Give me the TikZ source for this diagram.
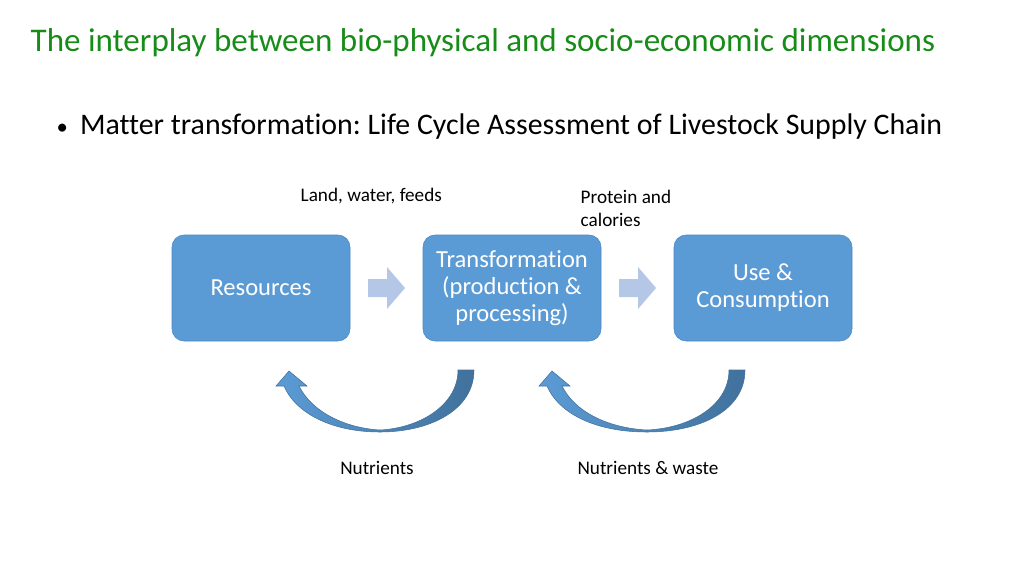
\documentclass[tikz,border=0pt]{standalone}
\usepackage{fontspec}
\setmainfont{Carlito}[Ligatures={NoCommon}]
\usetikzlibrary{calc,positioning}
\frenchspacing
\definecolor{boxblue}{RGB}{91,155,213}
\definecolor{boxedge}{RGB}{75,135,195}
\definecolor{paleblue}{RGB}{180,199,231}
\definecolor{darkblue}{RGB}{65,113,156}
\definecolor{titlegreen}{RGB}{24,140,24}
\tikzset{
  stagebox/.style={draw=boxedge,fill=boxblue,rounded corners=9,
    minimum width=133.5pt,minimum height=79.5pt,text=white,
    align=center,font=\fontsize{18.4}{20.3}\selectfont},
  smallnote/.style={font=\fontsize{14.4}{17.3}\selectfont,align=left},
  backflow/.style={draw=darkblue,line width=0.4pt,left color=boxblue,right color=darkblue}
}
\begin{document}
\begin{tikzpicture}[x=0.75pt,y=-0.75pt]
      \useasboundingbox(0,0)rectangle(1024,576);
      \node[anchor=west,text=titlegreen,font=\fontsize{24.8}{29}\selectfont](title)at(26,43)
        {The interplay between bio-physical and socio-economic dimensions};
      \node[anchor=west,font=\fontsize{22.4}{27}\selectfont](bullet)at(52,127)
        {{\fontsize{17}{20}\selectfont\textbullet}\hspace{9pt}Matter transformation: Life Cycle Assessment of Livestock Supply Chain};
      \node[stagebox](res)at(261,288){Resources};
      \node[stagebox](trans)at(512,288){Transformation\\(production \&\\processing)};
      \node[stagebox](use)at(763,288){Use \&\\Consumption};
      \foreach \A/\B/\N in{res/trans/one, trans/use/two}{
        \coordinate(push\N)at($(\A.east)!0.5!(\B.west)$);
        \fill[paleblue]($(push\N)+(-18.5,-9)$)--++(19,0)--++(0,-12)--($(push\N)+(18.5,0)$)
          --($(push\N)+(0.5,21)$)--++(0,-12)--++(-19,0)--cycle;
      }
      \node[smallnote,anchor=west](inputs)at(296,196){Land, water, feeds};
      \node[smallnote,anchor=north west](outputs)at(576,185){Protein and\\calories};
      \node[smallnote](nutr)at(377,468){Nutrients};
      \node[smallnote](waste)at(648,468){Nutrients \& waste};
      % curved return arrows
      \foreach \H/\T in{0/0, 263/271}{
        \path[backflow](474+\T,370)..controls(474+\T,410)and(430+\T,432)..(380+\H/2+\T/2,432)
          ..controls(330+\H,432)and(295+\H,412)..(284+\H,386)
          --(276+\H,386)--(289+\H,371)--(307+\H,386)--(299+\H,386)
          ..controls(312+\H,412)and(345+\H,428)..(380+\H/2+\T/2,430)
          ..controls(420+\T,428)and(458+\T,405)..(458+\T,370)--cycle;
      }
\end{tikzpicture}
\end{document}
